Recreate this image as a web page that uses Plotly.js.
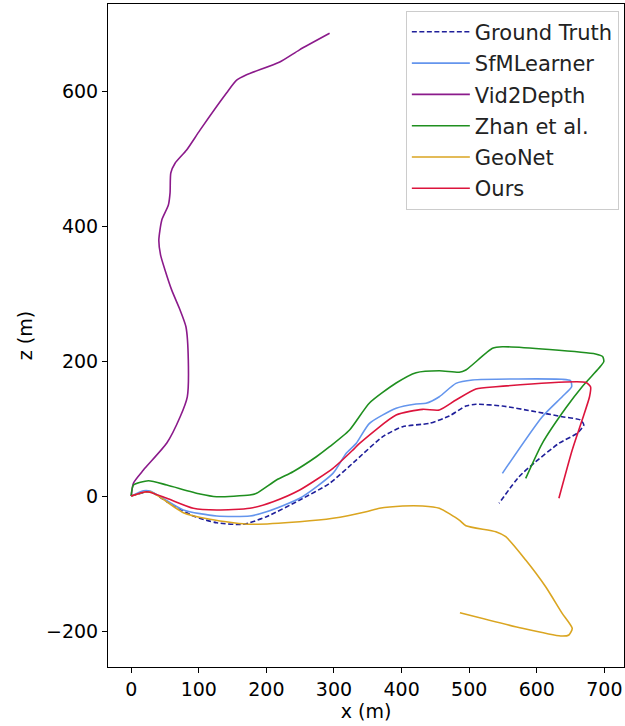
<!DOCTYPE html>
<html>
<head>
<meta charset="utf-8">
<script src="https://cdn.plot.ly/plotly-3.0.1.min.js"></script>
<style>html,body{margin:0;padding:0;background:#fff;}#chart{width:625px;height:726px;}</style>
</head>
<body>
<div id="chart"></div>
<script>
// Ground Truth
const gtX = [0, 28, 52.7, 91.9, 126.4, 165.6, 200.1, 249.3, 293.5, 332.9, 372.1, 401.6, 441, 470.5, 495.1, 509.9, 549.1, 598.4, 637.6, 664.7, 669.6, 659.7, 632.7, 598.4, 573.7, 544.2];
const gtZ = [0, 6.3, -8.4, -29.6, -39.6, -41.9, -30.7, -5.9, 18.8, 53.3, 87.9, 102.7, 107.7, 118.5, 133.3, 135.9, 133.3, 124.9, 117.5, 112.6, 105.2, 92.9, 78.1, 50.8, 28.6, -10.8];
// SfMLearner
const sfmX = [0, 18.1, 28, 77.1, 126.4, 175.5, 200.1, 249.3, 298.4, 318.1, 332.9, 352.5, 391.9, 421.4, 436.1, 455.8, 480.4, 504.9, 637.6, 650, 651.5, 637.6, 608.1, 549.1];
const sfmZ = [0, 7.9, 7.4, -20.7, -29.6, -29.6, -23.3, -3.4, 33.6, 63.3, 78, 107.7, 130, 136.3, 137.3, 147.1, 166.9, 171.9, 172.9, 170.8, 161.9, 147.1, 117.5, 33.6];
// Vid2Depth
const v2dX = [0, 3.4, 18.1, 52.7, 72.3, 83, 84.5, 81, 72.3, 60, 50, 43.5, 40.9, 45.3, 55, 57.5, 58.6, 64.9, 82, 101.8, 141, 156, 170.6, 219.8, 249, 293.5];
const v2dZ = [0, 19.3, 38.5, 78.5, 117, 147, 201.5, 250.8, 275.6, 305, 335, 357, 379, 409, 431, 449, 478.5, 493, 512.6, 542, 597, 616, 624, 643, 661, 685.5];
// Zhan et al.
const zhanX = [0, 3.4, 25.5, 52.7, 101.8, 126.4, 175.5, 185.4, 214.9, 239.4, 273.9, 293.5, 323, 352.5, 391.9, 421.4, 455.8, 485.3, 495.1, 534.4, 549.1, 686.9, 697.6, 699.1, 691.7, 667.1, 642.6, 608.1, 583.6];
const zhanZ = [0, 16.3, 22.7, 16.3, 3, -1, 1.5, 4, 23.7, 36, 58.2, 73, 97.8, 137.8, 167.4, 182.7, 185.6, 183.3, 186.7, 218.8, 221.2, 210.4, 206.4, 199, 189.2, 162, 130, 78.1, 26.2];
// GeoNet
const geoX = [0, 28, 77.1, 116.5, 150.9, 175.5, 249.3, 298.4, 347.6, 367.3, 401.6, 431.1, 455.8, 485.3, 495.1, 539.4, 554.1, 583.6, 613.1, 637.6, 652.4, 647.5, 635.3, 578.6, 486.3];
const geoZ = [0, 6.3, -24.7, -34.5, -39.6, -41.9, -38.1, -33, -23.3, -18.2, -14.8, -14.8, -18.2, -35.6, -44, -52.9, -60.3, -94.8, -134.4, -173.8, -196, -205.9, -207.4, -196, -172.9];
// Ours
const oursX = [0, 23.2, 52.7, 91.9, 126.4, 175.5, 209.9, 249.3, 298.4, 327.9, 337.8, 391.9, 431.1, 455.8, 480.4, 509.9, 539.4, 672.1, 679.5, 678, 667.1, 652.4, 632.7];
const oursZ = [0, 6.4, -3.4, -18.2, -20.7, -18.2, -8.4, 8.9, 41, 68.1, 78, 120, 128.4, 127.4, 142.2, 158.5, 161.9, 168.4, 161.9, 147.1, 112.6, 68.1, -3.4];

const xTicks = [0, 100, 200, 300, 400, 500, 600, 700];
const yTicks = [-200, 0, 200, 400, 600];

function tr(name, x, y, color, dash) {
  return {type: 'scatter', mode: 'lines', name: name, x: x, y: y, legendgroup: name,
    line: {color: color, width: 1.6, dash: dash || 'solid', shape: 'spline', smoothing: 0.6}};
}

const data = [
  tr('Ground Truth', gtX, gtZ, '#1f1f9a', '5px,2.5px'),
  tr('SfMLearner', sfmX, sfmZ, '#6495ED'),
  tr('Vid2Depth', v2dX, v2dZ, '#8B1A8B'),
  tr('Zhan et al.', zhanX, zhanZ, '#1f8f1f'),
  tr('GeoNet', geoX, geoZ, '#DAA520'),
  tr('Ours', oursX, oursZ, '#DC143C')
];

const axisCommon = {
  showgrid: false, zeroline: false, showline: true, mirror: true,
  linecolor: '#000', linewidth: 1, ticks: 'outside', ticklen: 5, tickwidth: 1,
  tickcolor: '#000', tickfont: {size: 19, color: '#000'}
};

const layout = {
  width: 625, height: 726,
  margin: {l: 108, r: 1, t: 4, b: 59},
  paper_bgcolor: '#fff', plot_bgcolor: '#fff',
  font: {family: 'DejaVu Sans', size: 19, color: '#000'},
  xaxis: Object.assign({}, axisCommon, {range: [-34.3, 729], tickvals: xTicks,
    title: {text: 'x (m)', font: {size: 19}, standoff: 4}}),
  yaxis: Object.assign({}, axisCommon, {range: [-253.3, 728.9], tickvals: yTicks,
    title: {text: 'z (m)', font: {size: 19}, standoff: 8}}),
  showlegend: true,
  legend: {x: 0.99, y: 0.99, xanchor: 'right', yanchor: 'top',
    bgcolor: 'rgba(255,255,255,0.8)', bordercolor: '#cccccc', borderwidth: 1,
    font: {size: 21, color: '#222'}, itemwidth: 58, tracegroupgap: 1}
};

Plotly.newPlot('chart', data, layout, {displayModeBar: false, staticPlot: true});
</script>
</body>
</html>
